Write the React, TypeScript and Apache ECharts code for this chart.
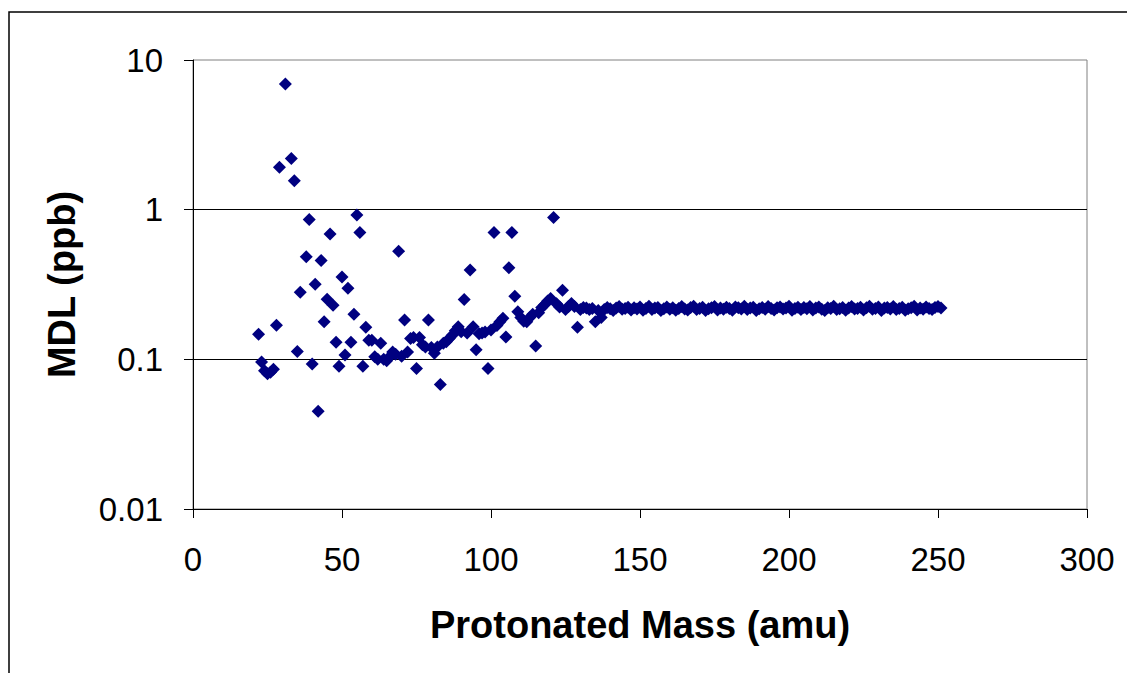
import React, { useEffect, useRef } from "react";
import * as echarts from "echarts";

// Low-mass region (sparse, scattered)
const massesLow = [22, 23, 24, 25, 26, 27, 28, 29, 31, 33, 34, 35, 36, 38, 39, 40, 41, 42, 43, 44, 45, 46, 47, 48, 49, 50, 51, 52, 53, 54, 55, 56, 57, 58, 59, 60];
const mdlLow = [0.147, 0.096, 0.084, 0.080, 0.082, 0.086, 0.169, 1.92, 6.9, 2.2, 1.56, 0.113, 0.281, 0.484, 0.86, 0.093, 0.317, 0.045, 0.458, 0.178, 0.252, 0.687, 0.230, 0.130, 0.090, 0.355, 0.107, 0.299, 0.130, 0.200, 0.92, 0.705, 0.090, 0.164, 0.134, 0.134];

// Mid-mass region (rising band with outliers)
const massesMid = [
  61, 62, 63, 64, 65, 66, 67, 68, 69, 70,
  71, 72, 73, 74, 75, 76, 77, 78, 79, 80,
  81, 82, 83, 84, 85, 86, 87, 88, 89, 90,
  91, 92, 93, 94, 95, 96, 97, 98, 99, 100,
  101, 102, 103, 104, 105, 106, 107, 108, 109, 110,
  111, 112, 113, 114, 115, 116, 117, 118, 119, 120,
  121, 122, 123, 124, 125, 126, 127, 128, 129, 130,
  131, 132, 133, 134, 135, 136, 137,
];
const mdlMid = [
  0.104, 0.100, 0.128, 0.100, 0.098, 0.104, 0.112, 0.108, 0.528, 0.105,
  0.183, 0.112, 0.138, 0.140, 0.087, 0.140, 0.125, 0.121, 0.183, 0.120,
  0.110, 0.121, 0.068, 0.128, 0.131, 0.138, 0.145, 0.155, 0.165, 0.153,
  0.251, 0.150, 0.396, 0.165, 0.116, 0.148, 0.150, 0.152, 0.087, 0.157,
  0.705, 0.168, 0.178, 0.188, 0.141, 0.409, 0.705, 0.264, 0.208, 0.190,
  0.180, 0.178, 0.190, 0.200, 0.123, 0.205, 0.222, 0.232, 0.245, 0.255,
  0.887, 0.235, 0.224, 0.290, 0.215, 0.225, 0.236, 0.225, 0.164, 0.215,
  0.222, 0.220, 0.215, 0.219, 0.178, 0.212, 0.190,
];

// High-mass region (flat band)
const massesHigh = [
  138, 139, 140, 141, 142, 143, 144, 145, 146, 147,
  148, 149, 150, 151, 152, 153, 154, 155, 156, 157,
  158, 159, 160, 161, 162, 163, 164, 165, 166, 167,
  168, 169, 170, 171, 172, 173, 174, 175, 176, 177,
  178, 179, 180, 181, 182, 183, 184, 185, 186, 187,
  188, 189, 190, 191, 192, 193, 194, 195, 196, 197,
  198, 199, 200, 201, 202, 203, 204, 205, 206, 207,
  208, 209, 210, 211, 212, 213, 214, 215, 216, 217,
  218, 219, 220, 221, 222, 223, 224, 225, 226, 227,
  228, 229, 230, 231, 232, 233, 234, 235, 236, 237,
  238, 239, 240, 241, 242, 243, 244, 245, 246, 247,
  248, 249, 250, 251,
];
const mdlHigh = [
  0.215, 0.222, 0.218, 0.212, 0.220, 0.225, 0.216, 0.219, 0.223, 0.214,
  0.221, 0.217, 0.224, 0.213, 0.219, 0.226, 0.215, 0.220, 0.222, 0.212,
  0.218, 0.224, 0.216, 0.221, 0.213, 0.219, 0.225, 0.217, 0.214, 0.222,
  0.226, 0.215, 0.219, 0.223, 0.212, 0.218, 0.221, 0.225, 0.214, 0.220,
  0.216, 0.223, 0.219, 0.213, 0.224, 0.221, 0.217, 0.226, 0.215, 0.220,
  0.223, 0.212, 0.218, 0.222, 0.216, 0.225, 0.219, 0.214, 0.221, 0.224,
  0.217, 0.220, 0.226, 0.213, 0.219, 0.223, 0.215, 0.222, 0.218, 0.225,
  0.214, 0.220, 0.224, 0.216, 0.212, 0.221, 0.219, 0.226, 0.215, 0.218,
  0.222, 0.213, 0.220, 0.225, 0.217, 0.219, 0.223, 0.214, 0.221, 0.226,
  0.216, 0.219, 0.224, 0.212, 0.220, 0.222, 0.217, 0.225, 0.215, 0.219,
  0.223, 0.213, 0.218, 0.221, 0.226, 0.214, 0.220, 0.216, 0.224, 0.219,
  0.215, 0.222, 0.225, 0.220,
];

const xTitle = "Protonated Mass (amu)";
const yTitle = "MDL (ppb)";
const FONT = "'Liberation Sans', Arial, Helvetica, sans-serif";

export default function App() {
  const ref = useRef<HTMLDivElement>(null);
  useEffect(() => {
    const chart = echarts.init(ref.current!, null, { renderer: "svg" });
    const masses = [...massesLow, ...massesMid, ...massesHigh];
    const mdl = [...mdlLow, ...mdlMid, ...mdlHigh];
    const data = masses.map((m, i) => [m, mdl[i]]);
    chart.setOption({
      animation: false,
      backgroundColor: "#ffffff",
      grid: {
        left: 193,
        top: 60,
        right: 40,
        bottom: 164,
        show: true,
        borderColor: "#808080",
        borderWidth: 1,
        backgroundColor: "transparent",
        containLabel: false,
        outerBoundsMode: "none",
      },
      xAxis: {
        type: "value",
        min: 0,
        max: 300,
        interval: 50,
        axisLine: { show: true, onZero: false, lineStyle: { color: "#000", width: 1 } },
        axisTick: { show: true, inside: false, length: 9, lineStyle: { color: "#000", width: 1 } },
        axisLabel: { fontSize: 33, fontFamily: FONT, color: "#000", margin: 34 },
        splitLine: { show: false },
        name: xTitle,
        nameLocation: "middle",
        nameGap: 97,
        nameTextStyle: { fontSize: 38, fontWeight: "bold", fontFamily: FONT, color: "#000" },
      },
      yAxis: {
        type: "log",
        logBase: 10,
        min: 0.01,
        max: 10,
        axisLine: { show: true, onZero: false, lineStyle: { color: "#000", width: 1 } },
        axisTick: { show: true, inside: false, length: 9, lineStyle: { color: "#000", width: 1 } },
        axisLabel: {
          fontSize: 33,
          fontFamily: FONT,
          color: "#000",
          margin: 30,
          formatter: (v: number) => String(Number(v.toPrecision(2))),
        },
        minorTick: { show: false },
        splitLine: { show: true, showMinLine: false, showMaxLine: false, lineStyle: { color: "#000", width: 1 } },
        name: yTitle,
        nameLocation: "middle",
        nameGap: 112,
        nameRotate: 90,
        nameTextStyle: { fontSize: 38, fontWeight: "bold", fontFamily: FONT, color: "#000" },
      },
      graphic: [
        {
          type: "rect",
          silent: true,
          shape: { x: 9, y: 12, width: 1300, height: 900 },
          style: { fill: "none", stroke: "#000", lineWidth: 1.5 },
        },
      ],
      series: [
        {
          type: "scatter",
          data,
          symbol: "diamond",
          symbolSize: 13,
          itemStyle: { color: "#000080", opacity: 1 },
        },
      ],
    });
    return () => chart.dispose();
  }, []);
  return (
    <div
      ref={ref}
      style={{ position: "absolute", left: 0, top: 0, width: 1127, height: 673, background: "#fff" }}
    />
  );
}
